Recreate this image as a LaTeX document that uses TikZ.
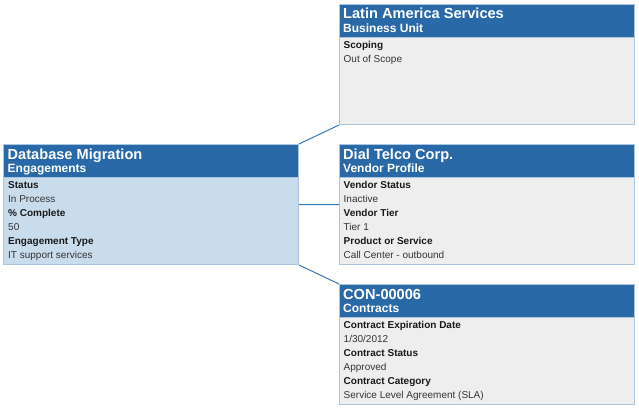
\documentclass[tikz,border=0pt]{standalone}
\usepackage{fontspec}
\setmainfont{Liberation Sans}
\usepackage{tikz}
\usepackage{xcolor}
\definecolor{headblue}{HTML}{2A69A8}
\definecolor{cardline}{HTML}{A9C5E0}
\definecolor{engfill}{HTML}{C9DCEC}
\definecolor{recfill}{HTML}{EEEEEE}
\definecolor{linkblue}{HTML}{3B77B6}

\begin{document}
\begin{tikzpicture}[x=1pt,y=-1pt]
	\tikzstyle{card} = [draw=cardline, line width=1pt, anchor=north west, minimum width=295pt, minimum height=120pt, inner sep=0pt]
	\tikzstyle{head} = [draw=cardline, line width=1pt, fill=headblue, anchor=north west, minimum width=295pt, minimum height=33pt, inner sep=0pt]
	\tikzstyle{title} = [anchor=base west, inner sep=0pt, text=white, font=\fontsize{14.6}{15}\selectfont\bfseries]
	\tikzstyle{sub} = [anchor=base west, inner sep=0pt, text=white, font=\fontsize{12}{12}\selectfont\bfseries]
	\tikzstyle{field} = [anchor=base west, inner sep=0pt, text=black!90, font=\fontsize{10}{10}\selectfont\bfseries]
	\tikzstyle{value} = [anchor=base west, inner sep=0pt, text=black!80, font=\fontsize{10}{10}\selectfont]
	\tikzstyle{link} = [draw=linkblue, line width=1pt]
	\useasboundingbox (0,0) rectangle (639,409);

	\node[card, fill=engfill] (dbm) at (3,144) {};
	\node[head] (dbmh) at (dbm.north west) {};
	\node[title] (dbmt) at ([shift={(4.5,15)}]dbm.north west) {Database Migration};
	\node[sub] (dbms) at ([shift={(4.5,28.3)}]dbm.north west) {Engagements};
	\foreach \f/\v [count=\i from 0] in {Status/In Process, {\% Complete}/50, Engagement Type/IT support services} {
		\node[field] (dbmf\i) at ([shift={(5,44.7+28*\i)}]dbm.north west) {\f};
		\node[value] (dbmv\i) at ([shift={(5,58.7+28*\i)}]dbm.north west) {\v};
	}

	\node[card, fill=recfill] (lat) at (339,4) {};
	\node[head] (lath) at (lat.north west) {};
	\node[title] (latt) at ([shift={(4,15)}]lat.north west) {Latin America Services};
	\node[sub] (lats) at ([shift={(4,28.3)}]lat.north west) {Business Unit};
	\node[field] (latf0) at ([shift={(4.5,44.7)}]lat.north west) {Scoping};
	\node[value] (latv0) at ([shift={(4.5,58.7)}]lat.north west) {Out of Scope};

	\node[card, fill=recfill] (dial) at (339,144) {};
	\node[head] (dialh) at (dial.north west) {};
	\node[title] (dialt) at ([shift={(4,15)}]dial.north west) {Dial Telco Corp.};
	\node[sub] (dials) at ([shift={(4,28.3)}]dial.north west) {Vendor Profile};
	\foreach \f/\v [count=\i from 0] in {Vendor Status/Inactive, Vendor Tier/Tier 1, Product or Service/Call Center - outbound} {
		\node[field] (dialf\i) at ([shift={(4.5,44.7+28*\i)}]dial.north west) {\f};
		\node[value] (dialv\i) at ([shift={(4.5,58.7+28*\i)}]dial.north west) {\v};
	}

	\node[card, fill=recfill] (con) at (339,284) {};
	\node[head] (conh) at (con.north west) {};
	\node[title] (cont) at ([shift={(4,15)}]con.north west) {CON-00006};
	\node[sub] (cons) at ([shift={(4,28.3)}]con.north west) {Contracts};
	\foreach \f/\v [count=\i from 0] in {Contract Expiration Date/{1/30/2012}, Contract Status/Approved, Contract Category/Service Level Agreement (SLA)} {
		\node[field] (conf\i) at ([shift={(4.5,44.7+28*\i)}]con.north west) {\f};
		\node[value] (conv\i) at ([shift={(4.5,58.7+28*\i)}]con.north west) {\v};
	}

	\path[link] (dbm.north east) -- (lat.south west)
		(dbm.east) -- (dial.west)
		(dbm.south east) -- (con.north west);
\end{tikzpicture}
\end{document}
